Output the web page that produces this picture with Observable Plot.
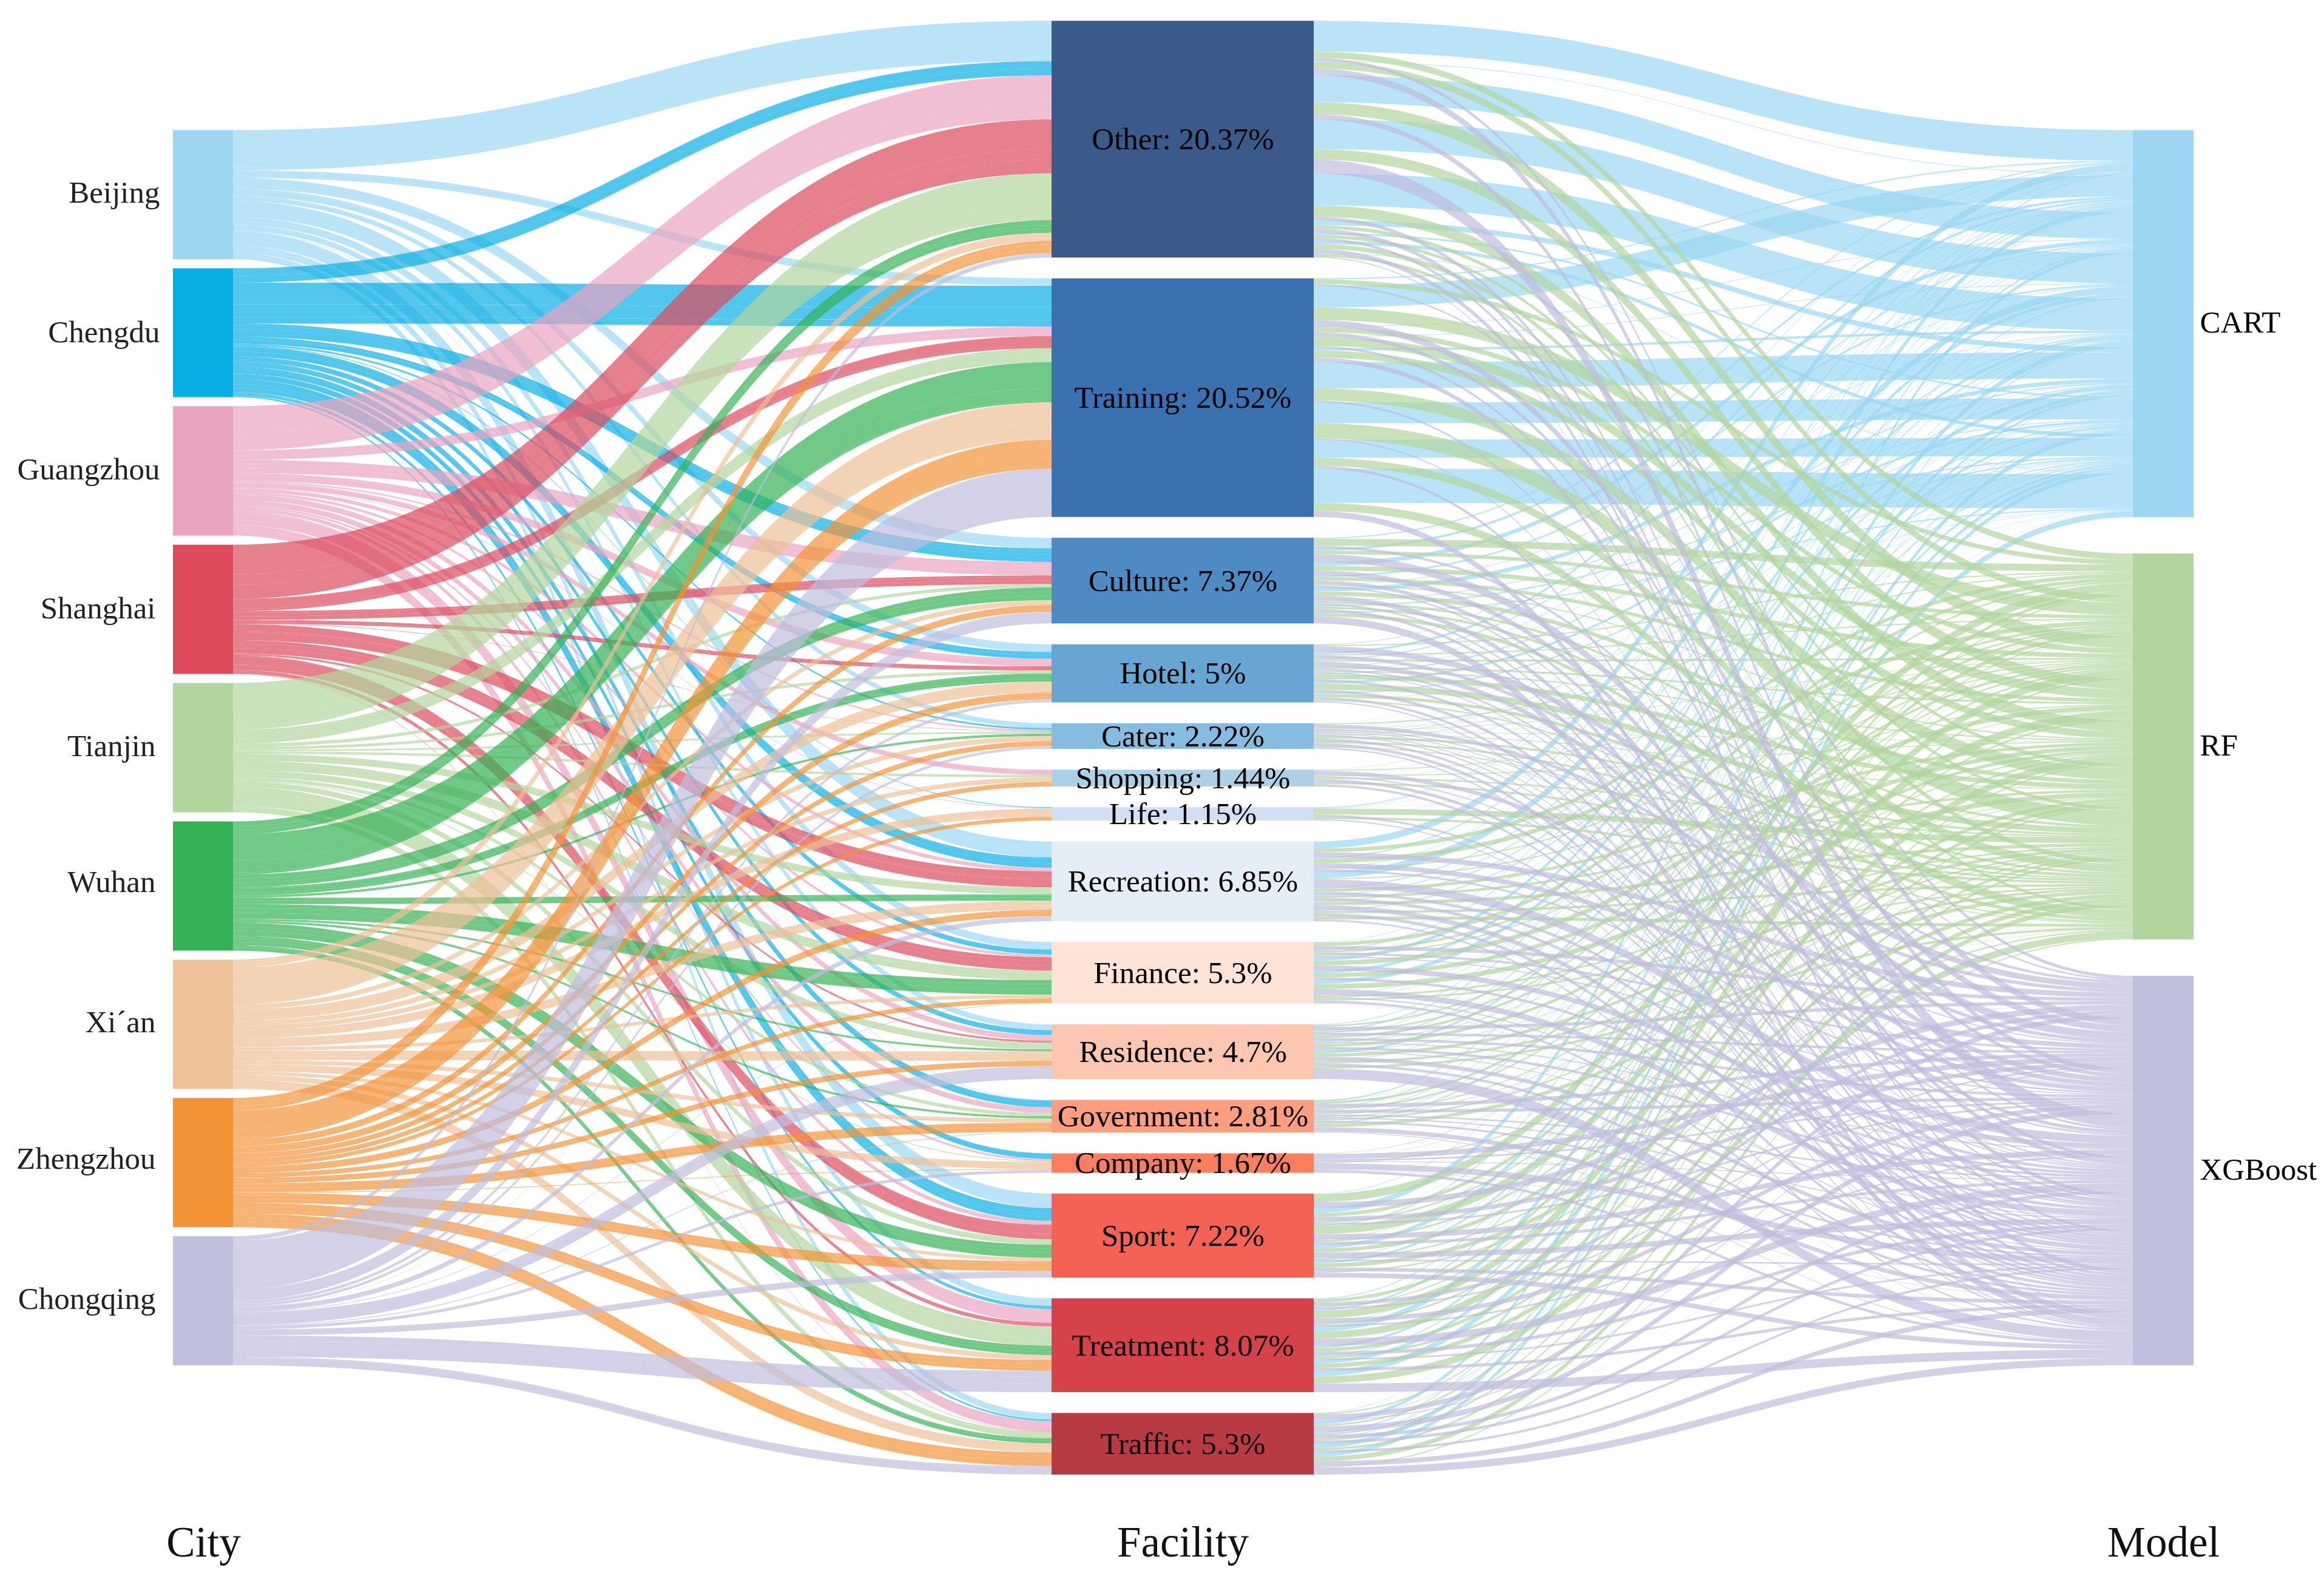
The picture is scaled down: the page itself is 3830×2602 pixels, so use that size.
<!DOCTYPE html>
<html>
<head>
<meta charset="utf-8">
<style>html,body{margin:0;padding:0;background:#fff}svg{display:block}</style>
<script src="https://cdn.jsdelivr.net/npm/d3@7"></script>
<script src="https://cdn.jsdelivr.net/npm/@observablehq/plot@0.6"></script>
</head>
<body>
<div id="chart"></div>
<script>
const cities = ["Beijing","Chengdu","Guangzhou","Shanghai","Tianjin","Wuhan","Xi´an","Zhengzhou","Chongqing"];
const facilities = ["Other: 20.37%","Training: 20.52%","Culture: 7.37%","Hotel: 5%","Cater: 2.22%","Shopping: 1.44%","Life: 1.15%","Recreation: 6.85%","Finance: 5.3%","Residence: 4.7%","Government: 2.81%","Company: 1.67%","Sport: 7.22%","Treatment: 8.07%","Traffic: 5.3%"];
const models = ["CART","RF","XGBoost"];
const columnTitles = ["City","Facility","Model"];

const cityColors = ["#9bd7f2","#09aee4","#e9a4c1","#dc4a5c","#b2d59e","#34b255","#eec097","#f29338","#bfbedd"];
const facilityColors = ["#3a5a8a","#3a72b0","#4d8bc2","#67a6d2","#86bcdf","#acd0e6","#cfe1f2","#e3eef9","#fee4d8","#fdc6b0","#fc9f81","#fb7e5e","#f46254","#d54249","#b83b43"];
const modelColors = ["#9bd7f2","#b2d59e","#bfbedd"];

// Each row: one city, shares going to [CART, RF, XGBoost], in percent of all records.
const otherFlows = [[2.64,.55,.27],[.05,.6,.59],[2.3,1.03,.45],[2.55,.9,1.2],[2.75,.96,.3],[.45,.3,.35],[.15,.28,.23],[.3,.4,.38],[.05,.25,.08]];
const trainingFlows = [[.1,.4,.14],[1.86,1.08,.56],[.05,.45,.32],[.05,.8,.2],[.2,.6,.4],[2.25,1.05,.16],[1.8,1.3,.1],[1.56,.7,.23],[2.95,.7,.51]];
const cultureFlows = [[.1,.6,.22],[.2,.3,.66],[.35,.38,.43],[.15,.3,.3],[.05,.1,.13],[.35,.35,.4],[.07,.2,.15],[.12,.2,.25],[.1,.3,.61]];
const hotelFlows = [[.06,.1,.5],[.19,.1,.3],[.1,.15,.4],[.05,.15,.15],[.04,.1,.1],[.1,.4,.21],[.2,.5,.25],[.12,.27,.2],[.04,.12,.1]];
const caterFlows = [[.02,.1,.3],[.02,.03,.1],[.02,.05,.07],[0,.01,.02],[.02,.05,.08],[.03,.07,.1],[.05,.18,.2],[.05,.15,.25],[.03,.08,.13]];
const shoppingFlows = [[0,0,0],[0,0,0],[.03,.07,.35],[0,0,0],[.02,.08,.1],[0,0,0],[.02,.13,.25],[.03,.16,.2],[0,0,0]];
const lifeFlows = [[0,0,0],[.05,0,0],[.04,.01,0],[0,0,0],[0,0,0],[0,0,0],[.02,.5,.18],[.03,.2,.1],[0,.01,.01]];
const recreationFlows = [[.6,.33,.45],[.1,.38,.4],[.05,.1,.16],[.6,.1,.68],[.1,.26,.25],[.08,.2,.26],[.1,.27,.4],[.1,.2,.26],[.02,.25,.15]];
const financeFlows = [[.05,.3,.3],[.08,.18,.18],[.03,.1,.1],[.3,.4,.44],[.25,.35,.22],[.35,.42,.49],[.05,.15,.1],[.05,.15,.2],[.01,.02,.03]];
const residenceFlows = [[.06,.15,.28],[.1,.14,.2],[.05,.2,.22],[.03,.05,.09],[.1,.26,.22],[.03,.06,.08],[.2,.26,.34],[.05,.2,.22],[.02,.2,.89]];
const governmentFlows = [[.01,.02,.02],[.1,.2,.3],[.06,.15,.26],[0,0,0],[.05,.1,.14],[.03,.06,.1],[.05,.14,.17],[.1,.3,.37],[0,.02,.06]];
const companyFlows = [[0,0,0],[0,.05,.44],[0,.02,.15],[0,0,0],[0,.01,.07],[0,0,0],[.02,.1,.5],[0,.01,.04],[0,.02,.24]];
const sportFlows = [[.05,.7,.49],[.45,.3,.36],[.03,.15,.16],[.1,.7,.44],[.05,.17,.25],[.33,.33,.47],[.05,.12,.12],[.2,.35,.31],[.02,.12,.4]];
const treatmentFlows = [[.08,.26,.3],[.05,.1,.13],[.15,.65,.38],[.03,.15,.14],[.45,.6,.61],[.2,.3,.3],[.08,.2,.15],[.3,.37,.25],[.5,.6,.74]];
const trafficFlows = [[.03,.12,.4],[.02,.05,.08],[.3,.15,.46],[0,.01,.02],[.1,.13,.3],[.05,.15,.25],[.4,.18,.2],[.35,.4,.43],[0,.1,.62]];
const flowTables = [otherFlows,trainingFlows,cultureFlows,hotelFlows,caterFlows,shoppingFlows,lifeFlows,recreationFlows,financeFlows,residenceFlows,governmentFlows,companyFlows,sportFlows,treatmentFlows,trafficFlows];

// Page geometry (pixels), separate from the data
const W = 3830, H = 2602;
const pxPerUnit = 19.16, facilityTopPx = 34.3;
const colX = {city:[285,384.6], facility:[1733,2165], model:[3515,3615]};
const gapUnits = {city:15/pxPerUnit, facility:34.3/pxPerUnit, model:60/pxPerUnit};
const cityLabelRight = i => i<3 ? 263 : 256;
const cityLabelNudge = [-4,-1,-3,-2,-3,-7,-4,-7,-3];

const flows = [];
flowTables.forEach((tbl,f)=>tbl.forEach((row,c)=>row.forEach((v,m)=>{ if(v>0) flows.push({f,c,m,v}); })));

const facTotal = facilities.map((_,f)=>d3.sum(flows.filter(d=>d.f===f),d=>d.v));
const cityTotal = cities.map((_,c)=>d3.sum(flows.filter(d=>d.c===c),d=>d.v));
const modelTotal = models.map((_,m)=>d3.sum(flows.filter(d=>d.m===m),d=>d.v));

const gap0 = gapUnits.facility;
function stackColumn(totals,gap){
  const span = d3.sum(totals)+gap*(totals.length-1);
  let y = (d3.sum(facTotal)+gap0*(facTotal.length-1))/2 - span/2;
  return totals.map(t=>{const o={y0:y,y1:y+t}; y+=t+gap; return o;});
}
const cityNodes = stackColumn(cityTotal,gapUnits.city);
const facNodes = stackColumn(facTotal,gapUnits.facility);
const modelNodes = stackColumn(modelTotal,gapUnits.model);

function assign(list,key,nodes,field){
  const cursor = nodes.map(n=>n.y0);
  list.forEach(d=>{ d[field]=cursor[d[key]]; cursor[d[key]]+=d.v; });
}
assign(flows.slice().sort((a,b)=>a.c-b.c||a.f-b.f||a.m-b.m),"c",cityNodes,"yCity");
assign(flows.slice().sort((a,b)=>a.f-b.f||a.c-b.c||a.m-b.m),"f",facNodes,"yFac");
// At the model column the ribbons arrive grouped by city, then by facility
assign(flows.slice().sort((a,b)=>a.m-b.m||a.c-b.c||a.f-b.f),"m",modelNodes,"yModel");

const ribbonRows = [];
flows.slice().sort((a,b)=>a.c-b.c||a.f-b.f||a.m-b.m).forEach((d,i)=>{
  ribbonRows.push({id:"L"+i,x:colX.city[1],y1:d.yCity,y2:d.yCity+d.v,color:cityColors[d.c]});
  ribbonRows.push({id:"L"+i,x:colX.facility[0],y1:d.yFac,y2:d.yFac+d.v,color:cityColors[d.c]});
});
flows.slice().sort((a,b)=>a.m-b.m||a.f-b.f||a.c-b.c).forEach((d,i)=>{
  ribbonRows.push({id:"R"+i,x:colX.facility[1],y1:d.yFac,y2:d.yFac+d.v,color:modelColors[d.m]});
  ribbonRows.push({id:"R"+i,x:colX.model[0],y1:d.yModel,y2:d.yModel+d.v,color:modelColors[d.m]});
});

const nodeRows = [
  ...cityNodes.map((n,i)=>({...n,x0:colX.city[0],x1:colX.city[1],color:cityColors[i]})),
  ...facNodes.map((n,i)=>({...n,x0:colX.facility[0],x1:colX.facility[1],color:facilityColors[i]})),
  ...modelNodes.map((n,i)=>({...n,x0:colX.model[0],x1:colX.model[1],color:modelColors[i]}))
];
const mid = d=>(d.y0+d.y1)/2;
const serif = "'Liberation Serif','Times New Roman',serif";
const titleY = (2542-facilityTopPx)/pxPerUnit;
const topU = -facilityTopPx/pxPerUnit;

const chart = Plot.plot({
  width:W, height:H, margin:0,
  style:{background:"#fff"},
  x:{domain:[0,W],range:[0,W],axis:null},
  y:{domain:[topU,topU+H/pxPerUnit],range:[0,H],axis:null},
  marks:[
    Plot.area(ribbonRows,{x1:"x",y1:"y1",y2:"y2",z:"id",fill:"color",fillOpacity:0.7,curve:"bump-x"}),
    Plot.rect(nodeRows,{x1:"x0",x2:"x1",y1:"y0",y2:"y1",fill:"color"}),
    Plot.text(cityNodes,{x:(d,i)=>cityLabelRight(i),y:(d,i)=>mid(d)+cityLabelNudge[i]/pxPerUnit,text:(d,i)=>cities[i],textAnchor:"end",fontFamily:serif,fontSize:51,fill:"#222"}),
    Plot.text(facNodes,{x:(colX.facility[0]+colX.facility[1])/2,y:mid,text:(d,i)=>facilities[i],fontFamily:serif,fontSize:51,fill:"#000"}),
    Plot.text(modelNodes,{x:3625,y:d=>mid(d)-2/pxPerUnit,text:(d,i)=>models[i],textAnchor:"start",fontFamily:serif,fontSize:51,fill:"#000"}),
    Plot.text(columnTitles,{x:(d,i)=>[335,1949,3565][i],y:titleY,text:d=>d,fontFamily:serif,fontSize:71,fill:"#111"})
  ]
});
document.getElementById("chart").appendChild(chart);
</script>
</body>
</html>
